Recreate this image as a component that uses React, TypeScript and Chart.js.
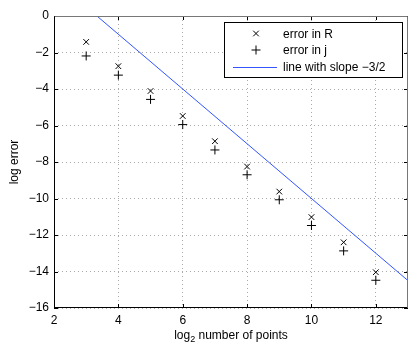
import React, { useEffect, useRef } from "react";
import { Chart, registerables } from "chart.js";

Chart.register(...registerables);

const nPointsLog2 = [3, 4, 5, 6, 7, 8, 9, 10, 11, 12];
const errorR = [-1.42, -2.75, -4.11, -5.48, -6.86, -8.25, -9.62, -11.02, -12.4, -14.04];
const errorJ = [-2.19, -3.24, -4.57, -5.95, -7.34, -8.7, -10.07, -11.48, -12.87, -14.48];
const slopeLineX = [3.3333, 13];
const slopeLineY = [0, -14.5];
const xTickValues = [2, 4, 6, 8, 10, 12];
const yTickValues = [-16, -14, -12, -10, -8, -6, -4, -2, 0];
const seriesLabels = ["error in R", "error in j", "line with slope \u22123/2"];
const xTitleParts = ["log", "2", " number of points"];
const yTitle = "log error";

const FONT = "'Liberation Sans', Arial, Helvetica, sans-serif";
const fmt = (v: number) => (v < 0 ? "\u2212" + Math.abs(v) : String(v));

const framePlugin = {
  id: "frame",
  afterDraw(chart: any) {
    const { ctx, chartArea: a, scales } = chart;
    const xs = scales.x;
    const ys = scales.y;
    ctx.save();
    ctx.strokeStyle = "#000";
    ctx.lineWidth = 1;
    ctx.beginPath();
    for (const v of xTickValues) {
      const px = Math.round(xs.getPixelForValue(v)) + 0.5;
      ctx.moveTo(px, a.bottom);
      ctx.lineTo(px, a.bottom - 4);
      ctx.moveTo(px, a.top);
      ctx.lineTo(px, a.top + 4);
    }
    for (const v of yTickValues) {
      const py = Math.round(ys.getPixelForValue(v)) + 0.5;
      ctx.moveTo(a.left, py);
      ctx.lineTo(a.left + 4, py);
      ctx.moveTo(a.right, py);
      ctx.lineTo(a.right - 4, py);
    }
    ctx.stroke();
    const l = Math.round(a.left) + 0.5;
    const r = Math.round(a.right) - 0.5;
    const t = Math.round(a.top) + 0.5;
    const b = Math.round(a.bottom) - 0.5;
    ctx.strokeStyle = "#777";
    ctx.beginPath();
    ctx.moveTo(l, t);
    ctx.lineTo(r, t);
    ctx.lineTo(r, b);
    ctx.stroke();
    ctx.strokeStyle = "#000";
    ctx.beginPath();
    ctx.moveTo(l, t);
    ctx.lineTo(l, b);
    ctx.lineTo(r, b);
    ctx.stroke();

    // legend
    const lx = 224.5, ly = 22.5, lw = 178, lh = 55;
    ctx.fillStyle = "#fff";
    ctx.fillRect(lx, ly, lw, lh);
    ctx.strokeStyle = "#000";
    ctx.strokeRect(lx, ly, lw, lh);
    const rows = [33.5, 50, 67];
    ctx.font = `12px ${FONT}`;
    ctx.textBaseline = "middle";
    ctx.textAlign = "left";
    ctx.fillStyle = "#000";
    chart.data.datasets.forEach((ds: any, i: number) => {
      const y = rows[i];
      if (ds.showLine) {
        ctx.strokeStyle = ds.borderColor;
        ctx.beginPath();
        ctx.moveTo(233, Math.round(y) + 0.5);
        ctx.lineTo(277, Math.round(y) + 0.5);
        ctx.stroke();
      } else {
        ctx.strokeStyle = "#000";
        ctx.beginPath();
        const cx = 256, cy = y;
        if (ds.pointStyle === "crossRot") {
          const d = 2.8;
          ctx.moveTo(cx - d, cy - d);
          ctx.lineTo(cx + d, cy + d);
          ctx.moveTo(cx - d, cy + d);
          ctx.lineTo(cx + d, cy - d);
        } else {
          const d = 4.5;
          ctx.moveTo(cx - d, cy);
          ctx.lineTo(cx + d, cy);
          ctx.moveTo(cx, cy - d);
          ctx.lineTo(cx, cy + d);
        }
        ctx.stroke();
      }
      ctx.fillStyle = "#000";
      ctx.fillText(ds.label, 283, y + 1);
    });

    // axis titles
    ctx.fillStyle = "#000";
    ctx.font = `12px ${FONT}`;
    ctx.textBaseline = "alphabetic";
    const w0 = ctx.measureText(xTitleParts[0]).width;
    const w2 = ctx.measureText(xTitleParts[2]).width;
    ctx.font = `9px ${FONT}`;
    const w1 = ctx.measureText(xTitleParts[1]).width;
    const total = w0 + w1 + w2;
    const cxT = (a.left + a.right) / 2;
    const x0 = cxT - total / 2;
    const base = 339;
    ctx.font = `12px ${FONT}`;
    ctx.fillText(xTitleParts[0], x0, base);
    ctx.font = `9px ${FONT}`;
    ctx.fillText(xTitleParts[1], x0 + w0, base + 3);
    ctx.font = `12px ${FONT}`;
    ctx.fillText(xTitleParts[2], x0 + w0 + w1, base);

    ctx.translate(18, (a.top + a.bottom) / 2);
    ctx.rotate(-Math.PI / 2);
    ctx.textAlign = "center";
    ctx.textBaseline = "alphabetic";
    ctx.fillText(yTitle, 0, 0);
    ctx.restore();
  },
};

export default function App() {
  const ref = useRef<HTMLCanvasElement | null>(null);
  useEffect(() => {
    if (!ref.current) return;
    const chart = new Chart(ref.current, {
      type: "scatter",
      data: {
        datasets: [
          {
            label: seriesLabels[0],
            data: nPointsLog2.map((x, i) => ({ x, y: errorR[i] })),
            pointStyle: "crossRot",
            pointRadius: 4,
            borderColor: "#000",
            backgroundColor: "#000",
            borderWidth: 1,
            showLine: false,
          },
          {
            label: seriesLabels[1],
            data: nPointsLog2.map((x, i) => ({ x, y: errorJ[i] })),
            pointStyle: "cross",
            pointRadius: 4.5,
            borderColor: "#000",
            backgroundColor: "#000",
            borderWidth: 1,
            showLine: false,
          },
          {
            label: seriesLabels[2],
            data: slopeLineX.map((x, i) => ({ x, y: slopeLineY[i] })),
            showLine: true,
            pointRadius: 0,
            borderColor: "#3355ff",
            borderWidth: 1,
            fill: false,
          },
        ],
      },
      options: {
        animation: false,
        responsive: true,
        maintainAspectRatio: false,
        events: [],
        layout: { padding: { left: 0, top: 16, right: 10, bottom: 0 } },
        plugins: { legend: { display: false }, tooltip: { enabled: false } },
        scales: {
          x: {
            type: "linear",
            min: 2,
            max: 13,
            afterBuildTicks: (s: any) => {
              s.ticks = xTickValues.map((v) => ({ value: v }));
            },
            afterFit: (s: any) => {
              s.height = 42;
            },
            ticks: {
              font: { family: FONT, size: 12 },
              color: "#000",
              padding: 5,
              maxRotation: 0,
              autoSkip: false,
              callback: (v: any) => fmt(Number(v)),
            },
            grid: { color: "#aaa", lineWidth: 1, drawTicks: false },
            border: { display: false, dash: [1, 3] },
          },
          y: {
            type: "linear",
            min: -16,
            max: 0,
            afterBuildTicks: (s: any) => {
              s.ticks = yTickValues.map((v) => ({ value: v }));
            },
            afterFit: (s: any) => {
              s.width = 54;
            },
            ticks: {
              font: { family: FONT, size: 12 },
              color: "#000",
              padding: 5,
              autoSkip: false,
              callback: (v: any) => fmt(Number(v)),
            },
            grid: { color: "#aaa", lineWidth: 1, drawTicks: false },
            border: { display: false, dash: [1, 3] },
          },
        },
      },
      plugins: [framePlugin],
    });
    return () => chart.destroy();
  }, []);
  return (
    <div style={{ position: "absolute", left: 0, top: 0, width: 418, height: 350, background: "#fff" }}>
      <canvas ref={ref} />
    </div>
  );
}
